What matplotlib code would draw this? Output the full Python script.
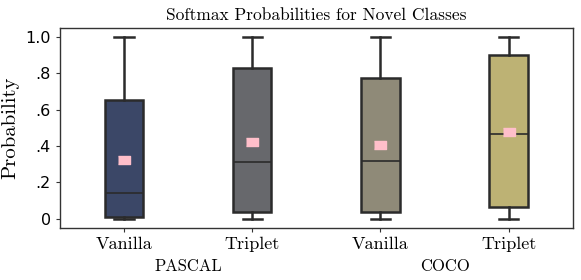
import matplotlib
matplotlib.use("Agg")
import matplotlib.pyplot as plt

# box stats
labels = ["Vanilla", "Triplet", "Vanilla", "Triplet"]
groups = ["PASCAL", "COCO"]
q1 = [0.01, 0.04, 0.04, 0.065]
med = [0.143, 0.31, 0.32, 0.467]
q3 = [0.654, 0.83, 0.775, 0.90]
whislo = [0.0, 0.0, 0.0, 0.0]
whishi = [1.0, 1.0, 1.0, 1.0]
means = [0.324, 0.42, 0.405, 0.48]
colors = ["#3b4767", "#67686c", "#8f8a78", "#bdb274"]

plt.rcParams["axes.unicode_minus"] = False
serif = "cmr10"

stats = []
for i in range(len(labels)):
    stats.append(dict(label=labels[i], q1=q1[i], med=med[i], q3=q3[i],
                      whislo=whislo[i], whishi=whishi[i], mean=means[i], fliers=[]))

fig, ax = plt.subplots(figsize=(5.81, 2.8), dpi=100)
fig.subplots_adjust(left=0.103, right=0.986, top=0.9, bottom=0.186)

edge = "#2b2b2b"
bp = ax.bxp(stats, positions=range(4), widths=0.3, patch_artist=True,
            showmeans=True,
            boxprops=dict(edgecolor=edge, linewidth=1.8),
            medianprops=dict(color=edge, linewidth=1.2),
            whiskerprops=dict(color=edge, linewidth=1.8),
            capprops=dict(color=edge, linewidth=1.8),
            meanprops=dict(marker=[(-1.5, -1), (1.5, -1), (1.5, 1), (-1.5, 1)],
                           markerfacecolor="#ffbfca", markeredgecolor="#ffbfca",
                           markersize=8))
for patch, c in zip(bp["boxes"], colors):
    patch.set_facecolor(c)

ax.set_xlim(-0.5, 3.5)
ax.set_ylim(-0.05, 1.05)
ax.set_yticks([0, 0.2, 0.4, 0.6, 0.8, 1.0])
ax.set_yticklabels(["0", ".2", ".4", ".6", ".8", "1.0"], fontsize=11.5)
ax.set_xticks(range(4))
ax.set_xticklabels(labels, fontsize=13, family=serif)
for sp in ax.spines.values():
    sp.set_color("#333333")
    sp.set_linewidth(1.0)
ax.tick_params(axis="both", length=3, color="#333333")

ax.set_ylabel("Probability", fontsize=15, family=serif)
ax.set_title("Softmax Probabilities for Novel Classes", fontsize=12.5, family=serif, pad=6)

for j, g in enumerate(groups):
    ax.text(0.5 + 2 * j, -0.155, g, transform=ax.get_xaxis_transform(),
            ha="center", va="top", fontsize=12, family=serif)

fig.savefig("out.png", dpi=100)
